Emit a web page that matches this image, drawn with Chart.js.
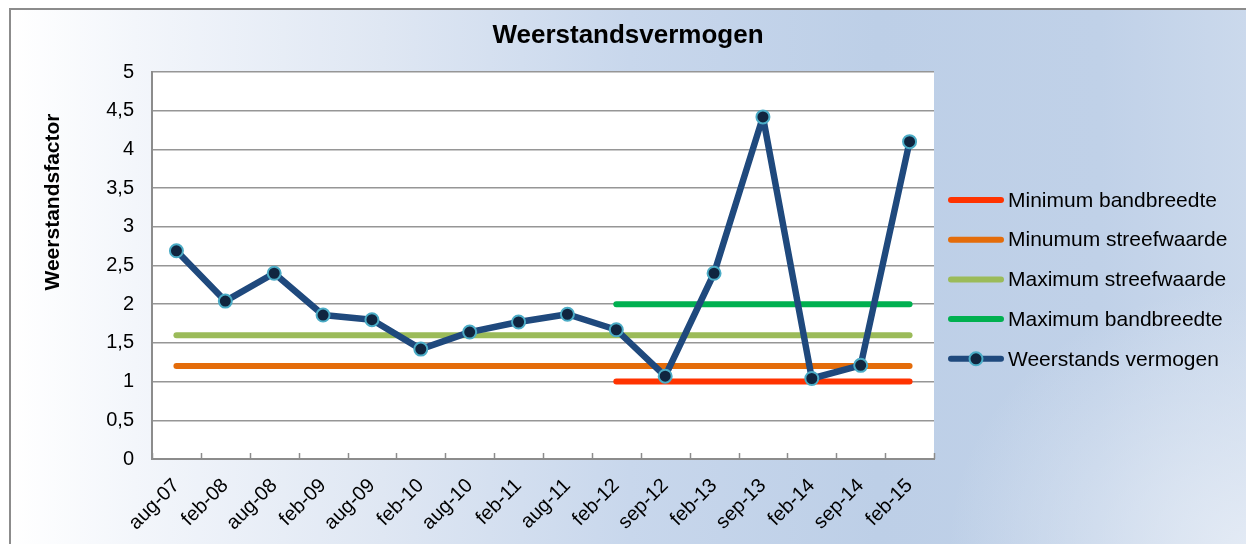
<!DOCTYPE html>
<html><head><meta charset="utf-8">
<script src="https://cdn.jsdelivr.net/npm/chart.js@4.4.1/dist/chart.umd.min.js"></script>
<style>
html,body{margin:0;padding:0;background:#fff;}
#wrap{position:relative;width:1246px;height:544px;overflow:hidden;}
#bg{position:absolute;left:9px;top:8px;width:1237px;height:536px;border-left:2px solid #8c8c8c;border-top:2px solid #8c8c8c;
background:
 radial-gradient(ellipse 300px 260px at 100% 100%, rgba(228,235,245,0.95) 0%, rgba(228,235,245,0) 100%),
 linear-gradient(90deg,#ffffff 0%,#f3f6fb 10%,#dfe7f3 30%,#c8d7ec 50%,#bdcfe7 70%,#c0d1e8 88%,#cbd9ec 100%);}
canvas{position:absolute;left:0;top:0;}
</style></head><body>
<div id="wrap"><div id="bg"></div><canvas id="c" width="1246" height="544"></canvas></div>
<script>
const categories = ['aug-07','feb-08','aug-08','feb-09','aug-09','feb-10','aug-10','feb-11','aug-11','feb-12','sep-12','feb-13','sep-13','feb-14','sep-14','feb-15'];
const weerstandsVermogen = [2.69, 2.04, 2.40, 1.86, 1.80, 1.42, 1.64, 1.77, 1.87, 1.67, 1.07, 2.40, 4.42, 1.04, 1.21, 4.10];
const minimumBandbreedte = [null,null,null,null,null,null,null,null,null,1,1,1,1,1,1,1];
const minimumStreefwaarde = [1.2,1.2,1.2,1.2,1.2,1.2,1.2,1.2,1.2,1.2,1.2,1.2,1.2,1.2,1.2,1.2];
const maximumStreefwaarde = [1.6,1.6,1.6,1.6,1.6,1.6,1.6,1.6,1.6,1.6,1.6,1.6,1.6,1.6,1.6,1.6];
const maximumBandbreedte = [null,null,null,null,null,null,null,null,null,2,2,2,2,2,2,2];
const yTicks = [0,0.5,1,1.5,2,2.5,3,3.5,4,4.5,5];

const FONT = "'Liberation Sans', Arial, sans-serif";

const refLine = (label, data, color) => ({
  label, data, borderColor: color, backgroundColor: color, borderWidth: 6,
  pointRadius: 0, borderCapStyle: 'round', fill: false, order: 1, spanGaps: false
});

const plotBg = {
  id: 'plotBg',
  beforeDraw(chart) {
    const {ctx, chartArea: a} = chart;
    ctx.save(); ctx.fillStyle = '#ffffff';
    ctx.fillRect(a.left, a.top, a.right - a.left, a.bottom - a.top);
    ctx.restore();
  }
};

// inward tick marks on the category axis, at category boundaries
const innerTicks = {
  id: 'innerTicks',
  beforeDatasetsDraw(chart) {
    const {ctx} = chart;
    const xs = chart.scales.x;
    ctx.save();
    ctx.strokeStyle = '#8c8c8c'; ctx.lineWidth = 1.5;
    for (let i = 0; i <= categories.length; i++) {
      const x = Math.round(xs.getPixelForValue(i - 0.5)) + 0.5;
      ctx.beginPath(); ctx.moveTo(x, xs.top); ctx.lineTo(x, xs.top - 6); ctx.stroke();
    }
    ctx.restore();
  }
};

const texts = {
  id: 'texts',
  afterDraw(chart) {
    const ctx = chart.ctx;
    ctx.save();
    ctx.fillStyle = '#000';
    ctx.font = "bold 26px " + FONT;
    ctx.textAlign = 'center'; ctx.textBaseline = 'alphabetic';
    ctx.fillText('Weerstandsvermogen', 628, 43);
    ctx.save();
    ctx.translate(59, 202); ctx.rotate(-Math.PI/2);
    ctx.font = "bold 21px " + FONT;
    ctx.textBaseline = 'alphabetic';
    ctx.fillText('Weerstandsfactor', 0, 0);
    ctx.restore();
    // legend
    ctx.font = "21px " + FONT;
    ctx.textAlign = 'left'; ctx.textBaseline = 'middle';
    chart.data.datasets.forEach((ds, i) => {
      const y = 200 + i * 39.7;
      ctx.strokeStyle = ds.borderColor; ctx.lineWidth = 6; ctx.lineCap = 'round';
      ctx.beginPath(); ctx.moveTo(951, y); ctx.lineTo(1001, y); ctx.stroke();
      if (ds.pointRadius > 0) {
        ctx.beginPath(); ctx.arc(976, y, ds.pointRadius, 0, Math.PI*2);
        ctx.fillStyle = ds.pointBackgroundColor; ctx.fill();
        ctx.lineWidth = ds.pointBorderWidth; ctx.strokeStyle = ds.pointBorderColor; ctx.stroke();
      }
      ctx.fillStyle = '#000';
      ctx.fillText(ds.label, 1008, y + 1);
    });
    ctx.restore();
  }
};

new Chart(document.getElementById('c'), {
  type: 'line',
  data: {
    labels: categories,
    datasets: [
      refLine('Minimum bandbreedte', minimumBandbreedte, '#ff3300'),
      refLine('Minumum streefwaarde', minimumStreefwaarde, '#e46c0a'),
      refLine('Maximum streefwaarde', maximumStreefwaarde, '#9bbb59'),
      refLine('Maximum bandbreedte', maximumBandbreedte, '#00b050'),
      {
        label: 'Weerstands vermogen', data: weerstandsVermogen,
        borderColor: '#1f497d', backgroundColor: '#1f497d', borderWidth: 6.5,
        borderJoinStyle: 'round', tension: 0, fill: false,
        pointRadius: 6.5, pointBackgroundColor: '#10253f', pointBorderColor: '#4bacc6', pointBorderWidth: 2,
        order: 0
      }
    ]
  },
  options: {
    responsive: false, animation: false, devicePixelRatio: 1,
    layout: { padding: { left: 0, top: 72, right: 312, bottom: 0 } },
    plugins: { legend: { display: false }, tooltip: { enabled: false }, title: { display: false } },
    scales: {
      x: {
        type: 'category', offset: true,
        grid: { offset: true, drawOnChartArea: false, drawTicks: false },
        border: { display: true, color: '#8c8c8c', width: 2 },
        ticks: { autoSkip: false, maxRotation: 45, minRotation: 45, color: '#000', padding: 15,
                 font: { size: 20, family: FONT } },
        afterFit(s) { s.height = 85; }
      },
      y: {
        min: 0, max: 5,
        afterBuildTicks(s) { s.ticks = yTicks.map(v => ({ value: v })); },
        ticks: { color: '#000', padding: 18, font: { size: 20, family: FONT },
                 callback: v => String(v).replace('.', ',') },
        grid: { color: '#969696', lineWidth: 1.5, drawTicks: false },
        border: { display: true, color: '#8c8c8c', width: 2 },
        afterFit(s) { s.width = 152; }
      }
    }
  },
  plugins: [plotBg, innerTicks, texts]
});
</script>
</body></html>
